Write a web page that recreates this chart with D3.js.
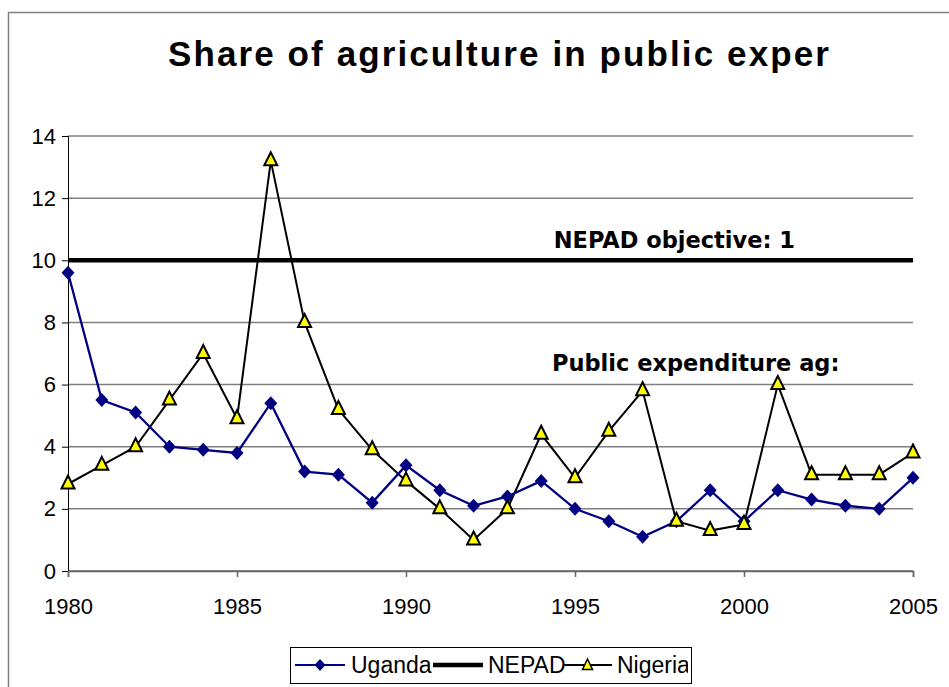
<!DOCTYPE html>
<html><head><meta charset="utf-8">
<script src="https://cdn.jsdelivr.net/npm/d3@7"></script>
<style>html,body{margin:0;padding:0;background:#fff;}svg{display:block;}</style>
</head><body>
<script>
const years = [1980,1981,1982,1983,1984,1985,1986,1987,1988,1989,1990,1991,1992,1993,1994,1995,1996,1997,1998,1999,2000,2001,2002,2003,2004,2005];
const uganda = [9.6,5.5,5.1,4.0,3.9,3.8,5.4,3.2,3.1,2.2,3.4,2.6,2.1,2.4,2.9,2.0,1.6,1.1,1.6,2.6,1.6,2.6,2.3,2.1,2.0,3.0];
const nepad = years.map(() => 10);
const nigeria = [2.8,3.4,4.0,5.5,7.0,4.9,13.2,8.0,5.2,3.9,2.9,2.0,1.0,2.0,4.4,3.0,4.5,5.8,1.6,1.3,1.5,6.0,3.1,3.1,3.1,3.8];
const yTicks = [0,2,4,6,8,10,12,14];
const xTicks = [1980,1985,1990,1995,2000,2005];
const titleText = "Share of agriculture in public exper";
const note1 = "NEPAD objective: 1";
const note2 = "Public expenditure ag:";
const legendNames = ["Uganda","NEPAD","Nigeria"];

const W = 949, H = 687;
const svg = d3.select("body").append("svg").attr("width", W).attr("height", H);
const defs = svg.append("defs");
defs.append("clipPath").attr("id","titleClip").append("rect").attr("x",0).attr("y",0).attr("width",831).attr("height",120);
defs.append("clipPath").attr("id","legClip").append("rect").attr("x",290).attr("y",640).attr("width",398).attr("height",50);

// outer frame
svg.append("rect").attr("x",8.5).attr("y",12.5).attr("width",1000).attr("height",800)
  .attr("fill","none").attr("stroke","#808080").attr("stroke-width",1.5);

const x = d3.scaleLinear().domain([1980,2005]).range([68,913]);
const y = d3.scaleLinear().domain([0,14]).range([571,136]);

// gridlines
svg.append("g").selectAll("line").data(yTicks).join("line")
  .attr("x1",x(1980)).attr("x2",x(2005)).attr("y1",d=>y(d)).attr("y2",d=>y(d))
  .attr("stroke", d => d===0 ? "#666" : "#7f7f7f").attr("stroke-width",1.5);

// y axis
const yAxis = d3.axisLeft(y).tickValues(yTicks).tickSize(6).tickPadding(6).tickFormat(d3.format("d"));
const gy = svg.append("g").attr("transform",`translate(${x(1980)},0)`).call(yAxis);
gy.select(".domain").attr("stroke","#000").attr("stroke-width",1);
gy.selectAll(".tick line").attr("stroke","#000");
gy.selectAll("text").attr("font-family","Liberation Sans, Arial, sans-serif").attr("font-size",22).attr("fill","#000");

// x axis
const xAxis = d3.axisBottom(x).tickValues(xTicks).tickSize(6).tickPadding(0).tickFormat(d3.format("d"));
const gx = svg.append("g").attr("transform",`translate(0,${y(0)})`).call(xAxis);
gx.select(".domain").attr("stroke","#666").attr("stroke-width",1.5);
gx.selectAll(".tick line").attr("stroke","#666").attr("stroke-width",1.5);
gx.selectAll("text").attr("font-family","Liberation Sans, Arial, sans-serif").attr("font-size",22)
  .attr("fill","#000").attr("y",27).attr("dy","0.71em");

// title
svg.append("text").attr("x",168).attr("y",66).attr("clip-path","url(#titleClip)")
  .attr("font-family","Liberation Sans, Arial, sans-serif").attr("font-weight","bold").attr("font-size",35)
  .attr("letter-spacing","2.1px").attr("fill","#000").text(titleText);

// NEPAD line
const line = d3.line().x((d,i)=>x(years[i])).y(d=>y(d));
svg.append("path").datum(nepad).attr("d",line).attr("fill","none").attr("stroke","#000").attr("stroke-width",4.5);

// Notes
svg.append("text").attr("x",795).attr("y",248).attr("text-anchor","end")
  .attr("font-family","DejaVu Sans, Verdana, sans-serif").attr("font-weight","bold").attr("font-size",22.5)
  .attr("fill","#000").text(note1);
svg.append("text").attr("x",552).attr("y",371)
  .attr("font-family","DejaVu Sans, Verdana, sans-serif").attr("font-weight","bold").attr("font-size",22.5)
  .attr("fill","#000").text(note2);

// Nigeria
svg.append("path").datum(nigeria).attr("d",line).attr("fill","none").attr("stroke","#000").attr("stroke-width",2);
// Uganda
svg.append("path").datum(uganda).attr("d",line).attr("fill","none").attr("stroke","#000080").attr("stroke-width",2.3);

const diamond = "M0,-7L6.5,0L0,7L-6.5,0Z";
const tri = "M0,-7.5L6.5,5.5L-6.5,5.5Z";
svg.append("g").selectAll("path").data(uganda).join("path")
  .attr("d",diamond).attr("transform",(d,i)=>`translate(${x(years[i])},${y(d)})`)
  .attr("fill","#000080");
svg.append("g").selectAll("path").data(nigeria).join("path")
  .attr("d",tri).attr("transform",(d,i)=>`translate(${x(years[i])},${y(d)-1})`)
  .attr("fill","#ffff00").attr("stroke","#000").attr("stroke-width",2).attr("stroke-linejoin","miter");

// Legend
const leg = svg.append("g");
leg.append("rect").attr("x",290.5).attr("y",647.5).attr("width",401).attr("height",36)
  .attr("fill","#fff").attr("stroke","#000").attr("stroke-width",1);
const ly = 665;
const legItems = [
  {name:legendNames[0], x1:295, x2:345, tx:351, color:"#000080", w:2, m:"d"},
  {name:legendNames[1], x1:433, x2:483, tx:488, color:"#000", w:4.5, m:null},
  {name:legendNames[2], x1:563, x2:612, tx:617, color:"#000", w:2, m:"t"}
];
const lg = leg.append("g").attr("clip-path","url(#legClip)");
legItems.forEach(it=>{
  lg.append("text").attr("x",it.tx).attr("y",ly+8)
    .attr("font-family","Liberation Sans, Arial, sans-serif").attr("font-size",23).attr("fill","#000").text(it.name);
});
legItems.forEach(it=>{
  lg.append("line").attr("x1",it.x1).attr("x2",it.x2).attr("y1",ly).attr("y2",ly)
    .attr("stroke",it.color).attr("stroke-width",it.w);
  const cx = (it.x1+it.x2)/2;
  if(it.m==="d") lg.append("path").attr("d","M0,-6L5.5,0L0,6L-5.5,0Z").attr("transform",`translate(${cx},${ly})`).attr("fill","#000080");
  if(it.m==="t") lg.append("path").attr("d","M0,-6L5,4.5L-5,4.5Z").attr("transform",`translate(${cx},${ly})`).attr("fill","#ffff00").attr("stroke","#000").attr("stroke-width",1.5);
});
</script>
</body></html>
